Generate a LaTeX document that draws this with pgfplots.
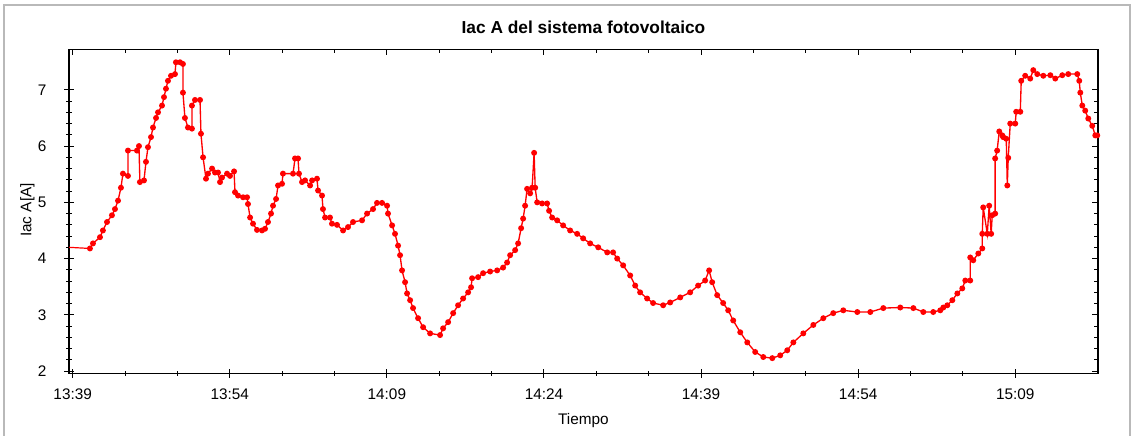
\documentclass[border=0pt]{standalone}
\usepackage{fontspec}
\setmainfont{Liberation Sans}
\usepackage{pgfplots}
\pgfplotsset{compat=1.18}
\pgfplotsset{
  common/.style={
    at={(51.75pt,47pt)}, anchor=south west,
    width=771.75pt, height=243pt, scale only axis,
    xmin=-0.35, xmax=97.9, ymin=1.96, ymax=7.72,
    xtick={0,15,30,45,60,75,90},
    ytick={2,3,4,5,6,7},
    minor x tick num=2, minor y tick num=4,
    axis line style={black, line width=0.9pt},
    every tick/.style={black, line width=0.8pt},
    every minor tick/.style={black, line width=0.7pt},
  }
}
\begin{document}
\begin{tikzpicture}
\path[use as bounding box] (0,0) rectangle (849.75pt,327pt);
\draw[gray!55, line width=1.2pt] (3pt,-2pt) -- (3pt,323.25pt) -- (847.5pt,323.25pt) -- (847.5pt,-2pt);
% overlay axis for inward ticks on top and right
\begin{axis}[common,
  xtick pos=right, ytick pos=right, tick align=inside,
  major tick length=4.5pt, minor tick length=3pt,
  xticklabels={}, yticklabels={}]
\end{axis}
\begin{axis}[common,
  xtick pos=left, ytick pos=left, tick align=center,
  major tick length=7pt, minor tick length=4pt,
  xticklabels={13:39,13:54,14:09,14:24,14:39,14:54,15:09},
  ticklabel style={font=\fontsize{11.5}{13}\selectfont},
  /pgf/number format/assume math mode=true,
  xticklabel style={yshift=-4.5pt},
  yticklabel style={xshift=-10pt},
]
\addplot[red, line width=0.9pt, no marks] coordinates {(-0.35,4.20) (1.65,4.18)};
\addplot[red, line width=1pt, mark=*, mark size=1.7pt, mark options={fill=red, draw=red}] table {
t y
1.65 4.18
1.94 4.27
2.61 4.38
2.89 4.50
3.28 4.65
3.75 4.77
4.04 4.88
4.33 5.03
4.61 5.26
4.80 5.51
5.28 5.47
5.28 5.92
6.14 5.92
6.33 6.00
6.42 5.36
6.81 5.39
7.00 5.72
7.19 5.98
7.48 6.16
7.67 6.33
7.96 6.50
8.15 6.60
8.53 6.72
8.72 6.87
8.91 7.02
9.10 7.16
9.39 7.25
9.77 7.28
9.86 7.49
10.25 7.49
10.53 7.46
10.53 6.95
10.72 6.50
11.01 6.33
11.39 6.31
11.39 6.72
11.68 6.82
12.16 6.82
12.25 6.22
12.45 5.80
12.73 5.42
12.92 5.51
13.31 5.60
13.59 5.53
13.88 5.53
14.07 5.36
14.26 5.44
14.74 5.51
15.02 5.47
15.41 5.55
15.50 5.18
15.79 5.12
16.27 5.09
16.65 5.09
16.74 4.97
16.94 4.73
17.22 4.62
17.60 4.51
18.08 4.50
18.37 4.53
18.65 4.65
18.94 4.80
19.13 4.94
19.42 5.06
19.61 5.30
19.99 5.33
20.08 5.51
21.04 5.51
21.23 5.78
21.52 5.78
21.61 5.51
21.90 5.36
22.19 5.39
22.67 5.30
22.86 5.39
23.33 5.42
23.43 5.21
23.81 5.12
23.90 4.88
24.10 4.73
24.57 4.73
24.76 4.62
25.24 4.60
25.82 4.50
26.29 4.56
26.77 4.65
27.63 4.68
28.11 4.80
28.68 4.88
29.06 4.99
29.54 4.99
30.02 4.94
30.11 4.80
30.50 4.59
30.78 4.44
31.07 4.23
31.26 4.06
31.45 3.79
31.74 3.58
31.93 3.38
32.22 3.26
32.50 3.12
32.98 2.94
33.46 2.78
34.13 2.67
35.08 2.64
35.37 2.76
35.85 2.87
36.33 3.03
36.80 3.17
37.28 3.29
37.76 3.40
38.04 3.49
38.14 3.65
38.71 3.67
39.19 3.74
39.86 3.77
40.53 3.79
41.10 3.84
41.48 3.93
41.77 4.06
42.25 4.15
42.53 4.27
42.82 4.54
43.01 4.71
43.20 4.94
43.39 5.24
43.68 5.16
43.87 5.26
44.06 5.88
44.16 5.26
44.35 5.00
44.82 4.98
45.30 4.98
45.49 4.85
45.78 4.73
46.26 4.68
46.83 4.59
47.50 4.50
48.17 4.44
48.74 4.36
49.41 4.27
50.18 4.20
51.04 4.11
51.60 4.11
51.99 4.00
52.56 3.88
53.23 3.70
53.71 3.52
54.18 3.40
54.85 3.29
55.42 3.21
56.38 3.17
57.05 3.22
58.01 3.31
58.96 3.40
59.72 3.52
60.39 3.61
60.77 3.79
61.06 3.58
61.54 3.35
62.11 3.21
62.59 3.08
63.07 2.90
63.74 2.69
64.41 2.51
65.17 2.34
65.94 2.25
66.80 2.23
67.56 2.28
68.23 2.37
68.81 2.51
69.76 2.67
70.72 2.82
71.67 2.94
72.62 3.03
73.58 3.08
74.92 3.05
76.16 3.05
77.40 3.12
79.02 3.13
80.27 3.12
81.22 3.05
82.17 3.05
82.84 3.08
83.13 3.13
83.51 3.17
83.99 3.26
84.47 3.38
84.94 3.47
85.23 3.61
85.70 3.61
85.70 4.02
85.99 3.97
86.47 4.09
86.85 4.18
86.85 4.44
86.94 4.91
87.33 4.44
87.51 4.94
87.70 4.44
87.80 4.77
88.08 4.80
88.08 5.78
88.27 5.92
88.47 6.26
88.76 6.19
88.85 6.16
89.14 6.13
89.24 5.30
89.33 5.79
89.52 6.40
90.00 6.40
90.09 6.61
90.48 6.61
90.57 7.16
90.95 7.25
91.43 7.20
91.72 7.35
92.10 7.28
92.68 7.25
93.35 7.26
93.82 7.20
94.49 7.26
95.06 7.28
95.92 7.28
96.11 7.16
96.21 6.95
96.40 6.72
96.68 6.63
96.97 6.49
97.35 6.36
97.64 6.19
97.83 6.19
};
\end{axis}
\node[font=\bfseries\fontsize{13}{15}\selectfont] at (437.6pt,306.75pt) {Iac A del sistema fotovoltaico};
\node[font=\fontsize{11.5}{13}\selectfont, rotate=90] at (20.5pt,169.5pt) {Iac A[A]};
\node[font=\fontsize{11.5}{13}\selectfont] at (437.6pt,11.5pt) {Tiempo};
\end{tikzpicture}
\end{document}
